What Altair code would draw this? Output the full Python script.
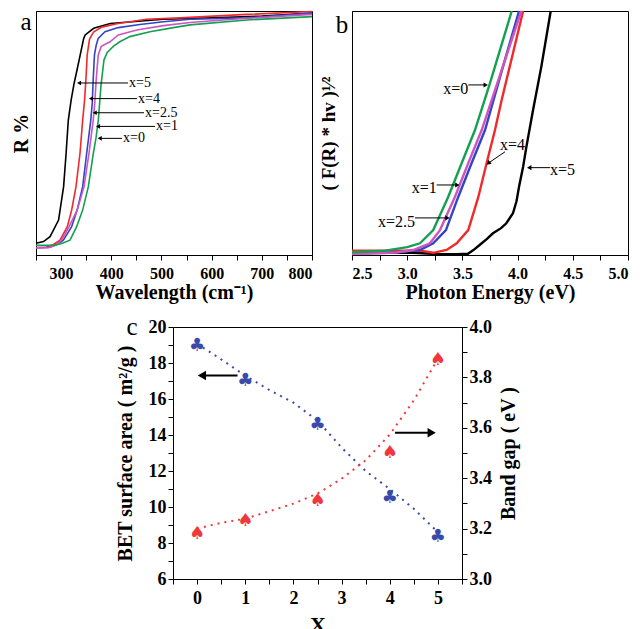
import altair as alt
import pandas as pd

FONT = "Liberation Serif"

# ---------------- Panel a : reflectance ----------------
A_SERIES = ["x=5", "x=4", "x=2.5", "x=1", "x=0"]
A_COLORS = ["#000000", "#f02a2a", "#3344c4", "#cc55c0", "#14a050"]

A5_NM = [250, 265, 278, 295, 305, 310, 314.4, 320, 326, 331, 338, 345, 348, 365, 398, 504, 600, 700, 800]
A5_R = [4.8, 5.5, 7.5, 14.3, 28, 41.7, 55.3, 63.5, 70.4, 75.1, 81.9, 88.7, 90.2, 92.9, 94.9, 96.6, 97.2, 97.9, 99.2]
A4_NM = [250, 270, 285, 297.8, 312.4, 321, 329.7, 337.7, 343, 347, 350, 352, 356.6, 364.6, 381, 411, 470, 537, 670, 800]
A4_R = [3.1, 3.2, 4.3, 6.1, 11.6, 18.4, 28, 41.7, 55.3, 64, 74, 82, 88.4, 91.4, 93.4, 94.8, 96.6, 97.2, 98.6, 99.8]
A25_NM = [250, 278, 292, 304.5, 321, 332, 343, 351, 359, 362, 364, 366.5, 370, 374, 387.5, 414, 457, 504, 557, 670, 800]
A25_R = [3.0, 3.2, 4.3, 6.1, 11.6, 18.4, 28, 41.7, 55, 62, 72, 82, 86, 88.8, 91.5, 93.2, 94.5, 95.6, 96.6, 97.2, 99.2]
A1_NM = [250, 275, 290, 301, 316, 332, 345.7, 355.6, 364, 367, 370, 374, 380, 397.5, 414, 451, 504, 557, 670, 800]
A1_R = [2.9, 3.0, 4.2, 6.1, 11.6, 18.4, 28, 41.7, 55.3, 62, 72, 82, 85.5, 87.4, 90.2, 92.2, 94.0, 95.3, 97, 98.6]
A0_NM = [250, 285, 300, 317.8, 331, 343, 354.3, 364.3, 369.6, 374.2, 379.6, 385.5, 392, 404, 417, 437, 477, 524, 557, 670, 800]
A0_R = [4.0, 4.0, 4.6, 6.1, 11.6, 18.4, 28, 41.7, 48, 55.3, 69.7, 80, 83, 85.5, 87.4, 89.5, 91.5, 93.2, 94.3, 96.3, 97.7]

A_LABEL_TAIL = [433.4, 451.3, 465.2, 487.2, 421.4]
A_LABEL_TIP = [335.7, 359.6, 367.0, 373.6, 377.0]
A_LABEL_Y = [70.5, 64.1, 58.3, 52.7, 47.8]

# ---------------- Panel b : Tauc plot ----------------
B5_E = [2.5, 3.0, 3.1, 3.3, 3.45, 3.55, 3.6, 3.656, 3.72, 3.777, 3.85, 3.898, 3.958, 3.99, 4.013, 4.05, 4.08, 4.14, 4.215, 4.3]
B5_Y = [0.7, 1.0, 0.8, 0.3, 0.3, 0.5, 2.0, 4.1, 6.5, 8.9, 11, 13, 17.1, 22, 28, 36.2, 44.4, 59.4, 77.2, 100]
B4_E = [2.5, 3.0, 3.15, 3.236, 3.357, 3.448, 3.553, 3.645, 3.719, 3.795, 3.853, 4.05]
B4_Y = [1.8, 1.8, 1.6, 0.9, 2.05, 4.8, 10.2, 23.9, 37.6, 51.2, 63, 100]
B25_E = [2.5, 2.9, 3.116, 3.236, 3.351, 3.463, 3.583, 3.705, 3.86, 4.013]
B25_Y = [0.9, 1.1, 2.05, 4.8, 10.2, 23.9, 37.6, 51.2, 76, 100]
B1_E = [2.5, 2.9, 3.055, 3.206, 3.297, 3.433, 3.553, 3.675, 3.85, 4.034]
B1_Y = [0.4, 1.0, 2.05, 4.8, 10.2, 23.9, 37.6, 51.2, 75, 100]
B0_E = [2.5, 2.8, 2.93, 3.0, 3.116, 3.236, 3.372, 3.493, 3.614, 3.745, 3.947]
B0_Y = [1.1, 1.8, 2.7, 3.2, 4.8, 10.2, 23.9, 37.6, 51.2, 69.7, 100]

B_LABELS = ["x=0", "x=1", "x=2.5", "x=4", "x=5"]
B_TAIL_E = [3.553, 3.267, 3.071, 3.886, 4.293]
B_TAIL_Y = [69.7, 28.7, 15.2, 42.3, 35.8]
B_TIP_E = [3.705, 3.448, 3.358, 3.74, 4.112]
B_TIP_Y = [69.7, 28.7, 15.2, 37.8, 35.8]
B_HEAD_ANGLE = [90, 90, 90, 230, 270]
B_TEXT_E = [3.553, 3.267, 3.071, 3.841, 4.293]
B_TEXT_Y = [67.9, 27.3, 13.6, 45.0, 34.8]
B_TEXT_ALIGN = ["right", "right", "right", "left", "left"]

# ---------------- Panel c : BET and band gap ----------------
C_X = [0, 1, 2.5, 4, 5]
C_BET = [18.95, 17.0, 14.55, 10.5, 8.35]
C_GAP = [3.18, 3.23, 3.31, 3.50, 3.87]
C_FIT_X = [0, 0.5, 1, 1.5, 2, 2.5, 3, 3.5, 4, 4.5, 5]
C_BET_FIT = [19.07, 18.2, 17.3, 16.5, 15.8, 14.8, 13.3, 12.0, 11.0, 9.9, 8.6]
C_GAP_FIT = [3.20, 3.223, 3.239, 3.269, 3.299, 3.339, 3.398, 3.471, 3.573, 3.709, 3.874]

BLUE_C = "#3a4aa8"
RED_C = "#f0383c"

# ---------- build panel a ----------
a_parts = []
for s, n, r in zip(A_SERIES, [A5_NM, A4_NM, A25_NM, A1_NM, A0_NM], [A5_R, A4_R, A25_R, A1_R, A0_R]):
    a_parts.append(pd.DataFrame({"nm": n, "R": r, "s": s}))
dfa = pd.concat(a_parts, ignore_index=True)
dfa_arrow = pd.DataFrame({"lab": A_SERIES, "tail": A_LABEL_TAIL, "tip": A_LABEL_TIP, "y": A_LABEL_Y})

xa = alt.Scale(domain=[250, 800], nice=False)
ya = alt.Scale(domain=[0, 100], nice=False)
xa_axis = alt.Axis(title="Wavelength (cm⁻¹)", values=list(range(250, 801, 50)),
                   labelExpr="datum.value % 100 == 0 ? datum.value : ''",
                   tickSize=5, labelPadding=5, titlePadding=1)
ya_axis = alt.Axis(title="R %", labels=False, ticks=False, titlePadding=5, titleFontSize=20)

a_lines = alt.Chart(dfa).mark_line(strokeWidth=1.6).encode(
    x=alt.X("nm:Q", scale=xa, axis=xa_axis),
    y=alt.Y("R:Q", scale=ya, axis=ya_axis),
    color=alt.Color("s:N", scale=alt.Scale(domain=A_SERIES, range=A_COLORS), legend=None),
    detail="s:N",
)
a_rule = alt.Chart(dfa_arrow).mark_rule(color="black", strokeWidth=1).encode(
    x=alt.X("tail:Q", scale=xa, axis=xa_axis), x2="tip:Q", y=alt.Y("y:Q", scale=ya, axis=ya_axis))
a_head = alt.Chart(dfa_arrow).mark_point(shape="triangle-left", filled=True, size=22,
                                         color="black", opacity=1).encode(
    x=alt.X("tip:Q", scale=xa, axis=xa_axis), y=alt.Y("y:Q", scale=ya, axis=ya_axis))
a_text = alt.Chart(dfa_arrow).mark_text(align="left", baseline="middle", dx=1, fontSize=14,
                                        font=FONT, color="black").encode(
    x=alt.X("tail:Q", scale=xa, axis=xa_axis), y=alt.Y("y:Q", scale=ya, axis=ya_axis), text="lab:N")
a_letter = alt.Chart(pd.DataFrame({"t": ["a"]})).mark_text(
    align="center", baseline="top", fontSize=25, font=FONT, color="black").encode(
    x=alt.value(-10), y=alt.value(-1.5), text="t:N")

panel_a = alt.layer(a_lines, a_rule, a_head, a_text, a_letter).properties(width=276, height=244)

# ---------- build panel b ----------
b_parts = []
for s, e, y in zip(A_SERIES, [B5_E, B4_E, B25_E, B1_E, B0_E], [B5_Y, B4_Y, B25_Y, B1_Y, B0_Y]):
    b_parts.append(pd.DataFrame({"e": e, "Y": y, "s": s}))
dfb = pd.concat(b_parts, ignore_index=True)
dfb_arrow = pd.DataFrame({"lab": B_LABELS, "tx": B_TAIL_E, "ty": B_TAIL_Y, "hx": B_TIP_E, "hy": B_TIP_Y,
                          "ang": B_HEAD_ANGLE, "lx": B_TEXT_E, "ly": B_TEXT_Y, "al": B_TEXT_ALIGN})

xb = alt.Scale(domain=[2.5, 5.0], nice=False)
yb = alt.Scale(domain=[0, 100], nice=False)
b_vals = [2.5 + 0.25 * i for i in range(11)]
xb_axis = alt.Axis(title="Photon Energy (eV)", values=b_vals,
                   labelExpr="datum.value % 0.5 == 0 ? format(datum.value, '.1f') : ''",
                   tickSize=5, labelPadding=5, titlePadding=1)
yb_axis = alt.Axis(title="( F(R) * hv )¹⁄²", labels=False, ticks=False,
                   titlePadding=14, titleFontSize=19)

b_lines = alt.Chart(dfb).mark_line(strokeWidth=2.4).encode(
    x=alt.X("e:Q", scale=xb, axis=xb_axis),
    y=alt.Y("Y:Q", scale=yb, axis=yb_axis),
    color=alt.Color("s:N", scale=alt.Scale(domain=A_SERIES, range=A_COLORS), legend=None),
    detail="s:N",
)
b_rule = alt.Chart(dfb_arrow).mark_rule(color="black", strokeWidth=1).encode(
    x=alt.X("tx:Q", scale=xb, axis=xb_axis), x2="hx:Q",
    y=alt.Y("ty:Q", scale=yb, axis=yb_axis), y2="hy:Q")
b_head = alt.Chart(dfb_arrow).mark_point(shape="triangle", filled=True, size=26,
                                         color="black", opacity=1).encode(
    x=alt.X("hx:Q", scale=xb, axis=xb_axis), y=alt.Y("hy:Q", scale=yb, axis=yb_axis),
    angle=alt.Angle("ang:Q", scale=None))
b_text_r = alt.Chart(dfb_arrow).transform_filter("datum.al == 'right'").mark_text(
    align="right", baseline="middle", fontSize=16, font=FONT, color="black").encode(
    x=alt.X("lx:Q", scale=xb, axis=xb_axis), y=alt.Y("ly:Q", scale=yb, axis=yb_axis), text="lab:N")
b_text_l = alt.Chart(dfb_arrow).transform_filter("datum.al == 'left'").mark_text(
    align="left", baseline="middle", fontSize=16, font=FONT, color="black").encode(
    x=alt.X("lx:Q", scale=xb, axis=xb_axis), y=alt.Y("ly:Q", scale=yb, axis=yb_axis), text="lab:N")
b_letter = alt.Chart(pd.DataFrame({"t": ["b"]})).mark_text(
    align="center", baseline="top", fontSize=25, font=FONT, color="black").encode(
    x=alt.value(-10), y=alt.value(1.5), text="t:N")

panel_b = alt.layer(b_lines, b_rule, b_head, b_text_r, b_text_l, b_letter).properties(width=276, height=244)

# ---------- build panel c ----------
dfc = pd.DataFrame({"x": C_X, "bet": C_BET, "gap": C_GAP})
dfc_fit = pd.DataFrame({"x": C_FIT_X, "bet": C_BET_FIT, "gap": C_GAP_FIT})
dfc_la = pd.DataFrame({"tail": [0.84], "tip": [0.10], "y": [17.3]})
dfc_ra = pd.DataFrame({"tail": [4.11], "tip": [4.87], "y": [3.58]})

xc = alt.Scale(domain=[-0.5, 5.5], nice=False)
ybet = alt.Scale(domain=[6, 20], nice=False)
ygap = alt.Scale(domain=[3.0, 4.0], nice=False)

xc_axis = alt.Axis(title="X", values=[-0.5 + 0.5 * i for i in range(13)],
                   labelExpr="datum.value % 1 == 0 ? datum.value : ''",
                   tickSize=5, labelPadding=5, titlePadding=7, labelFontSize=18, titleFontSize=22)
bet_axis = alt.Axis(title="BET surface area ( m²/g )", values=list(range(6, 21)),
                    labelExpr="datum.value % 2 == 0 ? datum.value : ''", orient="left",
                    tickSize=5, labelPadding=2, titlePadding=13, labelFontSize=18, titleFontSize=20)
gap_axis = alt.Axis(title="Band gap ( eV )", values=[round(3.0 + 0.1 * i, 1) for i in range(11)],
                    labelExpr="round(datum.value * 10) % 2 == 0 ? format(datum.value, '.1f') : ''",
                    orient="right", tickSize=5, labelPadding=2, titlePadding=7,
                    titleAngle=270, titleBaseline="top",
                    labelFontSize=18, titleFontSize=20)

c_bet_fit = alt.Chart(dfc_fit).mark_line(color=BLUE_C, strokeWidth=2, strokeDash=[2, 5]).encode(
    x=alt.X("x:Q", scale=xc, axis=xc_axis), y=alt.Y("bet:Q", scale=ybet, axis=bet_axis))
c_bet_pts = alt.Chart(dfc).mark_text(text="♣", fontSize=18, font="DejaVu Sans", color=BLUE_C,
                                     baseline="middle").encode(
    x=alt.X("x:Q", scale=xc, axis=xc_axis), y=alt.Y("bet:Q", scale=ybet, axis=bet_axis))
c_la_rule = alt.Chart(dfc_la).mark_rule(color="black", strokeWidth=2).encode(
    x=alt.X("tail:Q", scale=xc, axis=xc_axis), x2="tip:Q", y=alt.Y("y:Q", scale=ybet, axis=bet_axis))
c_la_head = alt.Chart(dfc_la).mark_point(shape="triangle-left", filled=True, size=90,
                                         color="black", opacity=1).encode(
    x=alt.X("tip:Q", scale=xc, axis=xc_axis), y=alt.Y("y:Q", scale=ybet, axis=bet_axis))
c_letter = alt.Chart(pd.DataFrame({"t": ["c"]})).mark_text(
    align="center", baseline="top", fontSize=25, font=FONT, color="black").encode(
    x=alt.value(-41), y=alt.value(-12.5), text="t:N")
left_group = alt.layer(c_bet_fit, c_bet_pts, c_la_rule, c_la_head, c_letter)

c_gap_fit = alt.Chart(dfc_fit).mark_line(color=RED_C, strokeWidth=2, strokeDash=[2, 5]).encode(
    x=alt.X("x:Q", scale=xc, axis=xc_axis), y=alt.Y("gap:Q", scale=ygap, axis=gap_axis))
c_gap_pts = alt.Chart(dfc).mark_text(text="♠", fontSize=18, font="DejaVu Sans", color=RED_C,
                                     baseline="middle").encode(
    x=alt.X("x:Q", scale=xc, axis=xc_axis), y=alt.Y("gap:Q", scale=ygap, axis=gap_axis))
c_ra_rule = alt.Chart(dfc_ra).mark_rule(color="black", strokeWidth=2).encode(
    x=alt.X("tail:Q", scale=xc, axis=xc_axis), x2="tip:Q", y=alt.Y("y:Q", scale=ygap, axis=gap_axis))
c_ra_head = alt.Chart(dfc_ra).mark_point(shape="triangle-right", filled=True, size=90,
                                         color="black", opacity=1).encode(
    x=alt.X("tip:Q", scale=xc, axis=xc_axis), y=alt.Y("y:Q", scale=ygap, axis=gap_axis))
right_group = alt.layer(c_gap_fit, c_gap_pts, c_ra_rule, c_ra_head)

panel_c = alt.layer(left_group, right_group).resolve_scale(y="independent").properties(
    width=289, height=252)

spacer = alt.Chart(pd.DataFrame({"v": [0]})).mark_point(opacity=0).encode(
    x=alt.value(0), y=alt.value(0)).properties(width=78, height=10,
                                               view=alt.ViewBackground(strokeOpacity=0))

top = alt.hconcat(panel_a, panel_b, spacing=2)
bottom = alt.hconcat(spacer, panel_c, spacing=0)

chart = alt.vconcat(top, bottom, spacing=11).properties(
    padding={"left": 2, "top": -3, "right": 0, "bottom": 0}
).configure(font=FONT).configure_view(stroke="black", strokeWidth=1).configure_axis(
    labelFont=FONT, titleFont=FONT, labelFontWeight="bold", titleFontWeight="bold",
    labelColor="black", titleColor="black", domainColor="black", tickColor="black",
    labelFontSize=16, titleFontSize=20, grid=False, domainWidth=1, tickWidth=1)

chart.save("out.html", embed_options={"renderer": "svg", "actions": False})
